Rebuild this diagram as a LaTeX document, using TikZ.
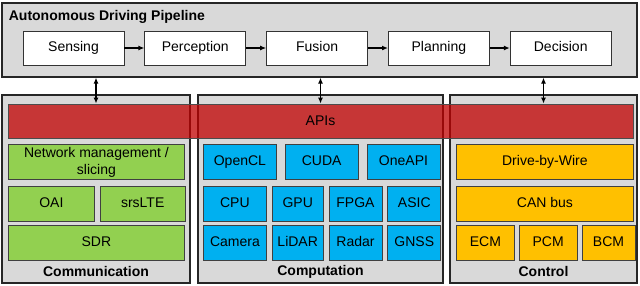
\documentclass[tikz,border=0pt]{standalone}
\usepackage{fontspec}
\setmainfont{Liberation Sans}
\usetikzlibrary{arrows.meta,positioning}

\definecolor{panelgray}{RGB}{217,217,217}
\definecolor{commgreen}{RGB}{146,208,80}
\definecolor{compblue}{RGB}{0,176,240}
\definecolor{ctrlorange}{RGB}{255,192,0}
\definecolor{apired}{RGB}{192,0,0}

\begin{document}
\fontsize{14}{17}\selectfont
\begin{tikzpicture}[
    x=1pt, y=-1pt,
    panel/.style={draw=black!85, line width=1.2pt, fill=panelgray, minimum height=188pt, inner sep=0pt},
    stage/.style={draw=black!80, line width=0.8pt, fill=white, minimum width=101pt, minimum height=34pt, inner sep=0pt, text height=0.75em, text depth=0.22em},
    tallblk/.style={draw=black!75, line width=0.8pt, minimum height=35pt, inner sep=0pt, align=center},
    block/.style={tallblk, text height=0.75em, text depth=0.22em},
    comblk/.style={block, fill=commgreen},
    cmpblk/.style={block, fill=compblue},
    ctlblk/.style={block, fill=ctrlorange},
    arr/.style={-{Latex[length=6pt,width=5pt]}, line width=1.2pt},
    dblarr/.style={{Latex[length=6pt,width=5pt]}-{Latex[length=6pt,width=5pt]}, line width=1.4pt}
]
\useasboundingbox (0,0) rectangle (640,285);

% pipeline
\node[panel, minimum width=635pt, minimum height=74pt] (pipeline) at (319.5,40) {};
\node[anchor=west, font=\bfseries] (pipetitle) at (4,17) {Autonomous Driving Pipeline};
\node[stage] (sensing) at (73.5,48) {Sensing};
\node[stage, right=20pt of sensing] (perception) {Perception};
\node[stage, right=20pt of perception] (fusion) {Fusion};
\node[stage, right=20pt of fusion] (planning) {Planning};
\node[stage, right=20pt of planning] (decision) {Decision};

\draw[arr] (sensing) -- (perception);
\draw[arr] (perception) -- (fusion);
\draw[arr] (fusion) -- (planning);
\draw[arr] (planning) -- (decision);

% lower panels
\node[panel, minimum width=188pt] (comm) at (96,189) {};
\node[panel, minimum width=245pt] (comp) at (320.5,189) {};
\node[panel, minimum width=187pt] (ctrl) at (543.5,189) {};

\node[draw=black!70, line width=0.8pt, fill=apired, fill opacity=0.75, text opacity=1,
      minimum width=625pt, minimum height=34pt, inner sep=0pt] (apis) at (320.5,121) {APIs};

\draw[dblarr] (comm.north |- pipeline.south) -- (comm.north |- apis.north);
\draw[dblarr] (comp.north |- pipeline.south) -- (comp.north |- apis.north);
\draw[dblarr] (ctrl.north |- pipeline.south) -- (ctrl.north |- apis.north);

% communication
\node[tallblk, fill=commgreen, minimum width=176pt, anchor=north west] (netmgmt) at (8,144) {Network management /\\slicing};
\node[comblk, minimum width=86pt, below=6pt of netmgmt.south west, anchor=north west] (oai) {OAI};
\node[comblk, minimum width=85pt, right=5pt of oai] (srslte) {srsLTE};
\node[comblk, minimum width=176pt, below=3pt of oai.south west, anchor=north west] (sdr) {SDR};
\node[font=\bfseries] (commtitle) at ([yshift=12pt]comm.south) {Communication};

% computation
\node[cmpblk, minimum width=73pt, anchor=north west] (opencl) at (203,144) {OpenCL};
\node[cmpblk, minimum width=73pt, right=8pt of opencl] (cuda) {CUDA};
\node[cmpblk, minimum width=73pt, right=8pt of cuda] (oneapi) {OneAPI};
\node[cmpblk, minimum width=63pt, below=6pt of opencl.south west, anchor=north west] (cpu) {CPU};
\node[cmpblk, minimum width=51pt, right=5pt of cpu] (gpu) {GPU};
\node[cmpblk, minimum width=53pt, right=5pt of gpu] (fpga) {FPGA};
\node[cmpblk, minimum width=53pt, right=5pt of fpga] (asic) {ASIC};
\node[cmpblk, minimum width=63pt, below=3pt of cpu.south west, anchor=north west] (camera) {Camera};
\node[cmpblk, minimum width=51pt, right=5pt of camera] (lidar) {LiDAR};
\node[cmpblk, minimum width=53pt, right=5pt of lidar] (radar) {Radar};
\node[cmpblk, minimum width=53pt, right=5pt of radar] (gnss) {GNSS};
\node[font=\bfseries] (comptitle) at ([yshift=12pt]comp.south) {Computation};

% control
\node[ctlblk, minimum width=177pt, anchor=north west] (dbw) at (456,144) {Drive-by-Wire};
\node[ctlblk, minimum width=177pt, below=6pt of dbw.south west, anchor=north west] (canbus) {CAN bus};
\node[ctlblk, minimum width=58pt, below=3pt of canbus.south west, anchor=north west] (ecm) {ECM};
\node[ctlblk, minimum width=58pt, right=4pt of ecm] (pcm) {PCM};
\node[ctlblk, minimum width=53pt, right=4pt of pcm] (bcm) {BCM};
\node[font=\bfseries] (ctrltitle) at ([yshift=12pt]ctrl.south) {Control};
\end{tikzpicture}
\end{document}
